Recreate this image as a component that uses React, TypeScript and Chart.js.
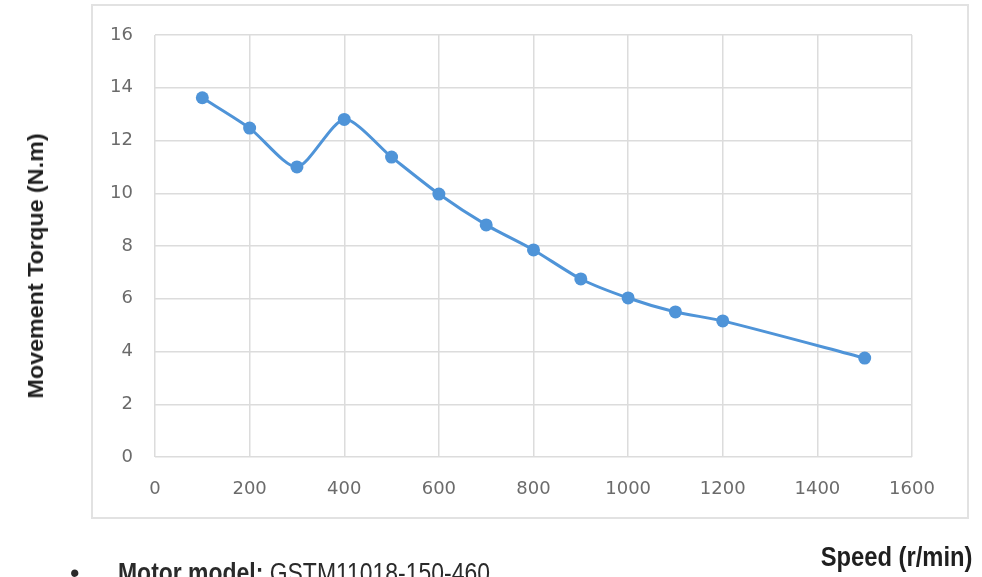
import React, { useEffect, useRef } from "react";
import { Chart, registerables } from "chart.js";

Chart.register(...registerables);

const speeds = [100, 200, 300, 400, 500, 600, 700, 800, 900, 1000, 1100, 1200, 1500];
const torques = [13.62, 12.47, 11.0, 12.8, 11.37, 9.97, 8.8, 7.85, 6.75, 6.03, 5.5, 5.16, 3.75];
const xTickMin = 0;
const xTickMax = 1600;
const xTickStep = 200;
const yTickMin = 0;
const yTickMax = 16;
const yTickStep = 2;
const yTitle = "Movement Torque (N.m)";
const xTitle = "Speed (r/min)";
const noteLabel = "Motor model:";
const noteValue = " GSTM11018-150-460";

export default function App() {
  const canvasRef = useRef<HTMLCanvasElement | null>(null);

  useEffect(() => {
    const canvas = canvasRef.current;
    if (!canvas) return;
    const chart = new Chart(canvas, {
      type: "line",
      data: {
        datasets: [
          {
            label: "Movement Torque",
            data: speeds.map((s, i) => ({ x: s, y: torques[i] })),
            borderColor: "#4f94d8",
            backgroundColor: "#4f94d8",
            borderWidth: 3,
            pointRadius: 6.5,
            pointBorderWidth: 0,
            pointBackgroundColor: "#4f94d8",
            tension: 0.25,
            fill: false,
          },
        ],
      },
      options: {
        responsive: false,
        animation: false,
        devicePixelRatio: 1,
        layout: { padding: { top: 35, right: 70, left: 0, bottom: 0 } },
        plugins: { legend: { display: false }, tooltip: { enabled: false } },
        scales: {
          x: {
            type: "linear",
            min: xTickMin,
            max: xTickMax,
            ticks: {
              stepSize: xTickStep,
              padding: 22,
              color: "#6b6b6b",
              font: { family: "'DejaVu Sans'", size: 18 },
              maxRotation: 0,
              callback: (v: any) => String(v),
            },
            grid: { color: "#dcdcdc", lineWidth: 1.5, drawTicks: false },
            border: { display: false },
            afterFit: (scale: any) => {
              scale.height = 120;
            },
          },
          y: {
            min: yTickMin,
            max: yTickMax,
            ticks: {
              stepSize: yTickStep,
              padding: 22,
              color: "#6b6b6b",
              font: { family: "'DejaVu Sans'", size: 18 },
              callback: (v: any) => String(v),
            },
            grid: { color: "#dcdcdc", lineWidth: 1.5, drawTicks: false },
            border: { display: false },
            afterFit: (scale: any) => {
              scale.width = 155;
            },
          },
        },
      },
    });
    return () => chart.destroy();
  }, []);

  return (
    <div
      style={{
        position: "absolute",
        left: 0,
        top: 0,
        width: 982,
        height: 577,
        overflow: "hidden",
        background: "#ffffff",
      }}
    >
      <div
        style={{
          position: "absolute",
          left: 91,
          top: 4,
          width: 874,
          height: 511,
          border: "2px solid #e2e2e2",
        }}
      />
      <canvas
        ref={canvasRef}
        width={982}
        height={577}
        style={{ position: "absolute", left: 0, top: 0, width: 982, height: 577 }}
      />
      <div
        style={{
          position: "absolute",
          left: 36,
          top: 266,
          transform: "translate(-50%, -50%) rotate(-90deg) scaleX(1.06)",
          whiteSpace: "nowrap",
          fontFamily: "'Liberation Sans', Arial, sans-serif",
          fontWeight: "bold",
          fontSize: 22,
          lineHeight: 1,
          color: "#1f1f1f",
        }}
      >
        {yTitle}
      </div>
      <div
        style={{
          position: "absolute",
          right: 982 - 973,
          top: 544,
          whiteSpace: "nowrap",
          fontFamily: "'Liberation Sans', Arial, sans-serif",
          fontWeight: "bold",
          fontSize: 27,
          lineHeight: 1,
          color: "#1f1f1f",
          transform: "scaleX(0.88)",
          transformOrigin: "right top",
        }}
      >
        {xTitle}
      </div>
      <div
        style={{
          position: "absolute",
          left: 70,
          top: 560,
          whiteSpace: "nowrap",
          fontFamily: "'Liberation Sans', Arial, sans-serif",
          fontSize: 27,
          lineHeight: 1,
          color: "#2a2a2a",
        }}
      >
        <span style={{ display: "inline-block", width: 48 }}>•</span>
        <span
          style={{
            display: "inline-block",
            transform: "scaleX(0.85)",
            transformOrigin: "left top",
          }}
        >
          <span style={{ fontWeight: "bold" }}>{noteLabel}</span>
          <span>{noteValue}</span>
        </span>
      </div>
    </div>
  );
}
